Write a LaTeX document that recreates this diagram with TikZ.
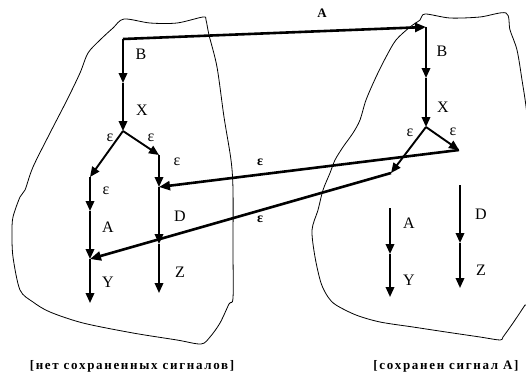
\documentclass[tikz,border=0pt]{standalone}
\usepackage{fontspec}
\setmainfont{Liberation Serif}
\newfontfamily\spacedbold[LetterSpace=13]{Liberation Serif}
\usetikzlibrary{arrows.meta}
\tikzset{
  arr/.style={line width=1.9pt,-{Triangle[length=10pt,width=8.5pt]}},
  longarr/.style={line width=2.6pt,-{Triangle[length=11pt,width=9pt]}},
  blob/.style={line width=0.8pt},
  lbl/.style={font=\fontsize{16}{18}\selectfont,inner sep=0pt},
  blbl/.style={font=\fontsize{14}{16}\selectfont\bfseries,inner sep=0pt},
  caption/.style={font=\fontsize{13}{15}\selectfont\spacedbold\bfseries,inner sep=0pt},
}
\begin{document}
\begin{tikzpicture}[x=1pt,y=-1pt]
\useasboundingbox (0,0) rectangle (526,378);
\begin{scope}
\clip (0,0) rectangle (526,378);
% blobs
\draw[blob] plot[smooth cycle,tension=0.5] coordinates {
(124,19) (150,23) (177,23) (203,17) (206,20) (209,35) (217,67) (224,117) (231,160) (233,190)
(233,250) (233,298) (229,304) (220,323) (210,337) (201,344) (177,340) (133,333) (83,323)
(50,312) (33,302) (20,290) (13,257) (12,233) (13,217) (20,197) (25,190) (33,167) (50,133)
(67,100) (80,73) (88,53) (100,40) (113,28)};
\draw[blob] plot[smooth cycle,tension=0.5] coordinates {
(425,14) (450,18) (480,17) (506,13) (510,30) (517,50) (522,80) (527,115) (535,200) (528,300)
(525,305) (513,323) (503,337) (500,340) (480,337) (446,332) (413,327) (380,322) (356,315)
(336,305) (328,297) (321,283) (315,257) (312,230) (318,210) (323,190) (330,173) (335,160)
(343,147) (353,133) (360,120) (366,100) (376,77) (386,57) (396,40) (410,27) (420,20)};
\end{scope}
% left automaton points
\coordinate (L0) at (123,39);
\coordinate (L1) at (123,83);
\coordinate (L2) at (123,131);
\coordinate (La) at (90,177);
\coordinate (Lb) at (90,211);
\coordinate (Lc) at (90,259);
\coordinate (Ld) at (90,303);
\coordinate (Lp) at (159,155);
\coordinate (Lq) at (159,187);
\coordinate (Lr) at (159,244);
\coordinate (Ls) at (159,293);
% right automaton points
\coordinate (R0) at (426,27);
\coordinate (R1) at (426,78);
\coordinate (R2) at (426,127);
\coordinate (Rl) at (391,173);
\coordinate (Rr) at (459,150);
\coordinate (RA0) at (390,208);
\coordinate (RA1) at (390,254);
\coordinate (RA2) at (390,297);
\coordinate (RD0) at (460,185);
\coordinate (RD1) at (460,243);
\coordinate (RD2) at (460,288);
% left arrows
\draw[arr] (L0) -- (L1);
\draw[arr] (L1) -- (L2);
\draw[arr] (L2) -- (La);
\draw[arr] (L2) -- (Lp);
\draw[arr] (La) -- (Lb);
\draw[arr] (Lb) -- (Lc);
\draw[arr] (Lc) -- (Ld);
\draw[arr] (Lp) -- (Lq);
\draw[arr] (Lq) -- (Lr);
\draw[arr] (Lr) -- (Ls);
% right arrows
\draw[longarr] (L0) -- (R0);
\draw[arr] (R0) -- (R1);
\draw[arr] (R1) -- (R2);
\draw[arr] (R2) -- (Rl);
\draw[arr] (R2) -- (Rr);
\draw[arr] (RA0) -- (RA1);
\draw[arr] (RA1) -- (RA2);
\draw[arr] (RD0) -- (RD1);
\draw[arr] (RD1) -- (RD2);
% epsilon back arrows
\draw[longarr] (Rr) -- (Lq);
\draw[longarr] (Rl) -- (Lc);
% labels left
\node[lbl] (tB) at (141,54) {B};
\node[lbl] (tX) at (142,110) {X};
\node[lbl] (te1) at (110,138) {ε};
\node[lbl] (te2) at (151,138) {ε};
\node[lbl] (te3) at (106,191) {ε};
\node[lbl] (te4) at (177,162) {ε};
\node[lbl] (tA) at (108,227) {A};
\node[lbl] (tY) at (108,282) {Y};
\node[lbl] (tD) at (180,216) {D};
\node[lbl] (tZ) at (180,272) {Z};
% labels right
\node[lbl] (uB) at (442,51) {B};
\node[lbl] (uX) at (443,107) {X};
\node[lbl] (ue1) at (410,133) {ε};
\node[lbl] (ue2) at (453,132) {ε};
\node[lbl] (uA) at (409,223) {A};
\node[lbl] (uY) at (409,280) {Y};
\node[lbl] (uD) at (481,214) {D};
\node[lbl] (uZ) at (481,270) {Z};
% bold labels
\node[blbl, font=\fontsize{13}{15}\selectfont\bfseries] (bA) at (322,13) {A};
\node[blbl] (be1) at (260,162) {ε};
\node[blbl] (be2) at (260,219) {ε};
% captions
\node[caption] (c1) at (132,366) {[нет сохраненных сигналов]};
\node[caption] (c2) at (446,366) {[сохранен сигнал A]};
\end{tikzpicture}
\end{document}
